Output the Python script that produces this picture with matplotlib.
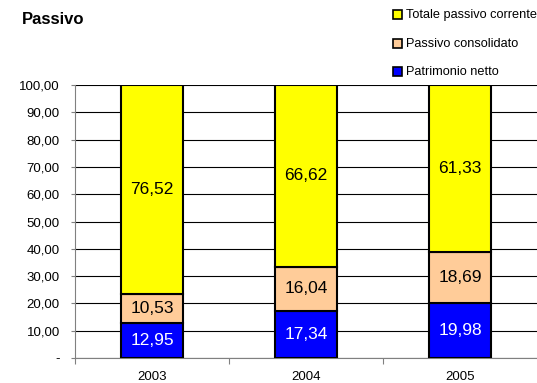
import numpy as np
import matplotlib
matplotlib.use('Agg')
import matplotlib.pyplot as plt
from matplotlib.patches import Rectangle

plt.rcParams['font.family'] = ['Liberation Sans', 'DejaVu Sans']

years = ['2003', '2004', '2005']
patrimonio = [12.95, 17.34, 19.98]
consolidato = [10.53, 16.04, 18.69]
corrente = [76.52, 66.62, 61.33]
series_names = ['Patrimonio netto', 'Passivo consolidato', 'Totale passivo corrente']
colors = ['#0000FF', '#FFCC99', '#FFFF00']
text_colors = ['white', 'black', 'black']

fig = plt.figure(figsize=(5.37, 3.83), dpi=100)
ax = fig.add_axes([75/537, 1-358/383, 1-75/537, (358-85)/383])

x = np.arange(len(years))
bottom = np.zeros(len(years))
for vals, col, tc in zip([patrimonio, consolidato, corrente], colors, text_colors):
    bars = ax.bar(x, vals, width=0.4, bottom=bottom, color=col, edgecolor='black',
                  linewidth=1.5, zorder=3)
    for b, v, btm in zip(bars, vals, bottom):
        ax.text(b.get_x() + b.get_width()/2, btm + v/2, f'{v:.2f}'.replace('.', ','),
                ha='center', va='center', fontsize=12.5, color=tc, zorder=4)
    bottom = bottom + np.array(vals)

ax.set_xlim(-0.5, 2.5)
ax.set_ylim(0, 100)
yt = np.arange(0, 101, 10)
ax.set_yticks(yt)
ax.set_yticklabels(['-'] + [f'{v:.2f}'.replace('.', ',') for v in yt[1:]], fontsize=9.5)
ax.yaxis.grid(True, color='black', linewidth=0.8, zorder=0)
ax.set_xticks([-0.5, 0.5, 1.5])
ax.set_xticklabels([])
ax.set_xticks(x, minor=True)
ax.set_xticklabels(years, minor=True, fontsize=9.5)
ax.tick_params(axis='x', which='minor', length=0, pad=9)
ax.tick_params(axis='x', which='major', length=4, color='#808080')
ax.tick_params(axis='y', length=3, color='#808080', pad=8)
for s in ['top', 'right']:
    ax.spines[s].set_visible(False)
ax.spines['left'].set_color('#808080')
ax.spines['bottom'].set_color('#808080')

fig.text(22/537, 1-20/383, 'Passivo', fontsize=12, fontweight='bold', va='center')

leg_y = [15, 44, 72]
for name, col, yy in zip(series_names[::-1], colors[::-1], leg_y):
    fig.patches.append(Rectangle((393/537, 1-(yy+4)/383), 9/537, 9/383,
                                 transform=fig.transFigure, facecolor=col,
                                 edgecolor='black', linewidth=1.2))
    fig.text(406/537, 1-yy/383, name, fontsize=9.2, va='center')

fig.savefig('out.png', dpi=100)
